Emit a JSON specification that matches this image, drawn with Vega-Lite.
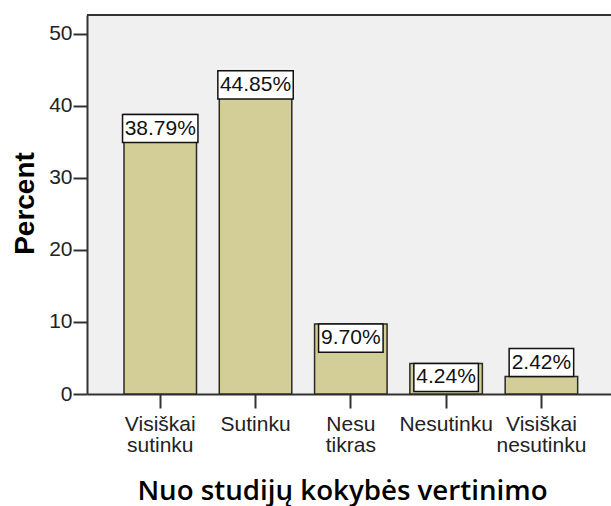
{
  "$schema": "https://vega.github.io/schema/vega-lite/v6.json",
  "width": 524,
  "height": 379,
  "autosize": {"type": "none"},
  "padding": {"left": 87, "top": 15, "right": 0, "bottom": 112},
  "background": "white",
  "config": {
    "view": {"fill": "#f0f0f0", "stroke": null},
    "font": "Liberation Sans"
  },
  "data": {
    "values": [
      {"cat": "Visiškai sutinku", "pct": 38.79},
      {"cat": "Sutinku", "pct": 44.85},
      {"cat": "Nesu tikras", "pct": 9.70},
      {"cat": "Nesutinku", "pct": 4.24},
      {"cat": "Visiškai nesutinku", "pct": 2.42}
    ]
  },
  "transform": [
    {"calculate": "datum.pct >= 3.9 ? datum.pct - 3.9 : datum.pct", "as": "lo"},
    {"calculate": "datum.pct >= 3.9 ? datum.pct : datum.pct + 3.9", "as": "hi"},
    {"calculate": "(datum.lo + datum.hi) / 2", "as": "mid"},
    {"calculate": "format(datum.pct, '.2f') + '%'", "as": "lbl"}
  ],
  "layer": [
    {
      "mark": {"type": "rule", "stroke": "#333333", "strokeWidth": 2},
      "encoding": {
        "y": {"datum": 52.6, "type": "quantitative"}
      }
    },
    {
      "encoding": {
        "x": {
          "field": "cat",
          "type": "nominal",
          "sort": null,
          "scale": {"paddingInner": 0.239, "paddingOuter": 0.369, "align": 0.526},
          "axis": {
            "title": "Nuo studijų kokybės vertinimo",
            "labelAngle": 0,
            "labelExpr": "split(datum.label, ' ')",
            "labelFont": "Liberation Sans",
            "labelFontSize": 21,
            "labelColor": "#222222",
            "labelLineHeight": 21,
            "labelPadding": 5,
            "labelBaseline": "top",
            "domainColor": "#333333",
            "domainWidth": 2,
            "tickColor": "#333333",
            "tickWidth": 2,
            "tickSize": 14,
            "titleFont": "Open Sans",
            "titleFontWeight": 600,
            "titleFontSize": 27.7,
            "titleColor": "#000000",
            "titleX": 255,
            "titleY": 105,
            "titleBaseline": "alphabetic",
            "titleAlign": "center"
          }
        }
      },
      "layer": [
        {
          "mark": {"type": "bar", "fill": "#d3ce97", "stroke": "#2a2a2a", "strokeWidth": 1.5},
          "encoding": {
            "y": {
              "field": "pct",
              "type": "quantitative",
              "scale": {"domain": [0, 52.6], "nice": false},
              "axis": {
                "title": "Percent",
                "values": [0, 10, 20, 30, 40, 50],
                "grid": false,
                "labelFont": "Liberation Sans",
                "labelFontSize": 21,
                "labelColor": "#222222",
                "labelPadding": 1,
                "domainColor": "#333333",
                "domainWidth": 2,
                "tickColor": "#333333",
                "tickWidth": 2,
                "tickSize": 14,
                "titleFont": "Liberation Sans",
                "titleFontWeight": "bold",
                "titleFontSize": 28,
                "titleColor": "#000000",
                "titleAngle": 270,
                "titleX": -54,
                "titleY": 188,
                "titleAlign": "center",
                "titleBaseline": "alphabetic"
              }
            }
          }
        },
        {
          "transform": [{"filter": "datum.pct >= 10"}],
          "mark": {"type": "bar", "fill": "white", "stroke": "#111111", "strokeWidth": 1.5, "width": {"band": 1.04}},
          "encoding": {
            "y": {"field": "hi", "type": "quantitative"},
            "y2": {"field": "lo"}
          }
        },
        {
          "transform": [{"filter": "datum.pct < 10"}],
          "mark": {"type": "bar", "fill": "white", "stroke": "#111111", "strokeWidth": 1.5, "width": {"band": 0.89}},
          "encoding": {
            "y": {"field": "hi", "type": "quantitative"},
            "y2": {"field": "lo"}
          }
        },
        {
          "mark": {"type": "text", "font": "Liberation Sans", "fontSize": 21, "color": "#111111", "baseline": "middle", "align": "center"},
          "encoding": {
            "y": {"field": "mid", "type": "quantitative"},
            "text": {"field": "lbl"}
          }
        }
      ]
    }
  ]
}
